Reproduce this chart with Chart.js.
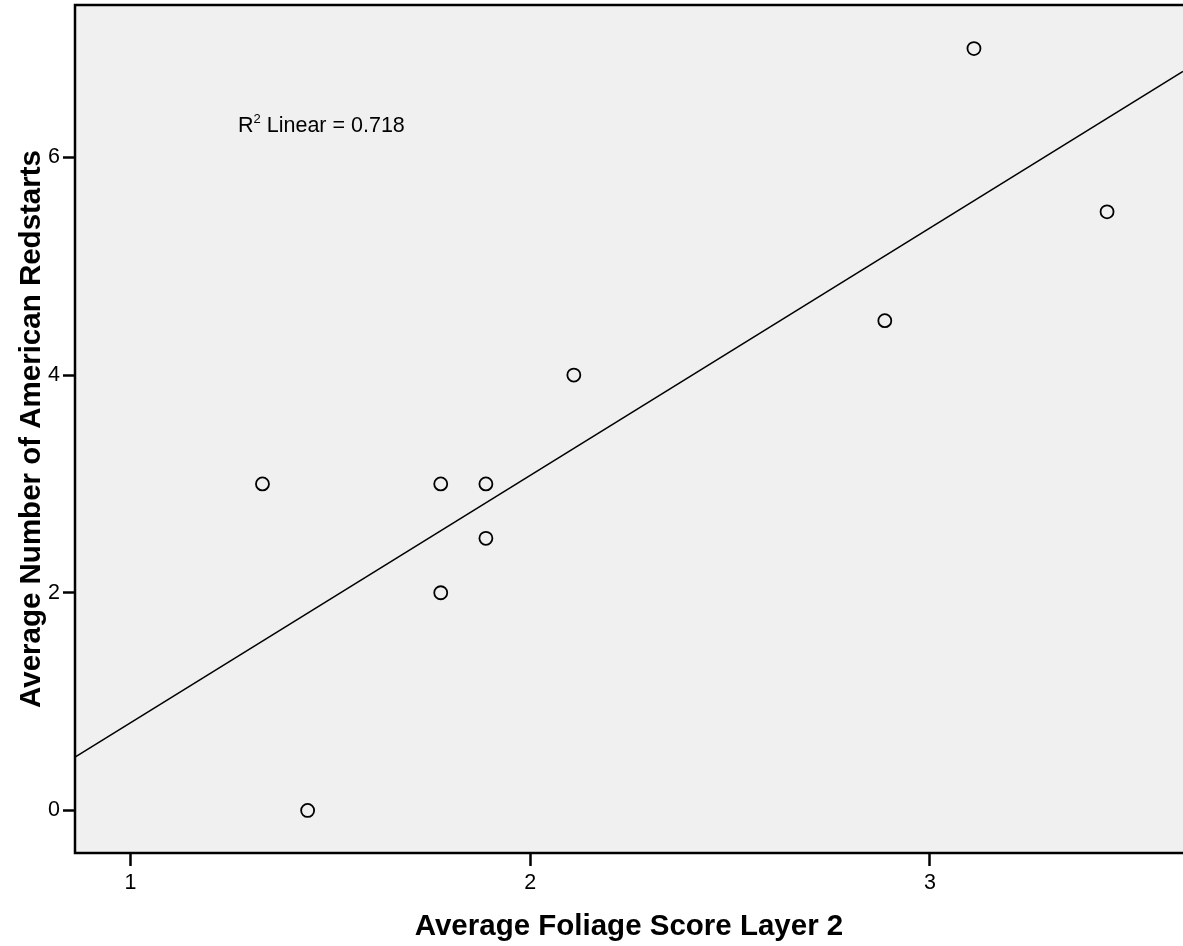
<!DOCTYPE html>
<html>
<head>
<meta charset="utf-8">
<script src="https://cdn.jsdelivr.net/npm/chart.js@4"></script>
<style>
  html, body { margin: 0; padding: 0; background: #fff; }
  #wrap { width: 1183px; height: 946px; }
</style>
</head>
<body>
<div id="wrap"><canvas id="grafica"></canvas></div>
<script>
// foliage score (x) and redstart count (y)
var foliage = [1.33, 1.443, 1.776, 1.776, 1.889, 1.889, 2.109, 2.887, 3.11, 3.443];
var redstarts = [3, 0, 3, 2, 3, 2.5, 4, 4.5, 7, 5.5];
// fit line end points as drawn
var lineX = [0.861, 3.633];
var lineY = [0.49, 6.79];
var xTicks = [1, 2, 3];
var yTicks = [0, 2, 4, 6];
var r2Text = 'Linear = 0.718';

var fuente = '"Liberation Sans", Arial, sans-serif';
var puntos = foliage.map(function (v, i) { return { x: v, y: redstarts[i] }; });
var recta = lineX.map(function (v, i) { return { x: v, y: lineY[i] }; });

var fondo = {
  id: 'fondo',
  beforeDraw: function (chart) {
    var c = chart.ctx, a = chart.chartArea;
    c.save();
    c.fillStyle = '#f0f0f0';
    c.fillRect(a.left, a.top, a.right - a.left, a.bottom - a.top);
    c.restore();
  },
  afterDraw: function (chart) {
    var c = chart.ctx, a = chart.chartArea;
    c.save();
    c.strokeStyle = '#000';
    c.lineWidth = 2.5;
    c.beginPath();
    c.moveTo(a.right + 2, a.top);
    c.lineTo(a.left, a.top);
    c.lineTo(a.left, a.bottom);
    c.lineTo(a.right + 2, a.bottom);
    c.stroke();
    // R squared label
    c.fillStyle = '#000';
    c.textBaseline = 'alphabetic';
    c.font = '21.5px ' + fuente;
    c.fillText('R', 238, 132);
    var w = c.measureText('R').width;
    c.font = '13px ' + fuente;
    c.fillText('2', 238 + w, 123);
    var w2 = c.measureText('2').width;
    c.font = '21.5px ' + fuente;
    c.fillText(' ' + r2Text, 238 + w + w2, 132);
    c.restore();
  }
};

new Chart(document.getElementById('grafica').getContext('2d'), {
  type: 'scatter',
  data: {
    datasets: [
      {
        label: 'puntos',
        data: puntos,
        pointStyle: 'circle',
        pointRadius: 6.5,
        pointBorderWidth: 1.8,
        borderColor: '#000',
        backgroundColor: 'rgba(0,0,0,0)'
      },
      {
        label: 'recta',
        type: 'line',
        data: recta,
        borderColor: '#000',
        borderWidth: 1.6,
        pointRadius: 0,
        fill: false
      }
    ]
  },
  options: {
    responsive: true,
    maintainAspectRatio: false,
    animation: false,
    events: [],
    layout: { autoPadding: false, padding: { top: 5, right: 0, left: 0, bottom: 0 } },
    plugins: { legend: { display: false }, tooltip: { enabled: false } },
    scales: {
      x: {
        type: 'linear',
        min: 0.861,
        max: 3.633,
        afterFit: function (s) { s.height = 93; s.paddingLeft = 0; s.paddingRight = 0; },
        afterBuildTicks: function (s) { s.ticks = xTicks.map(function (v) { return { value: v }; }); },
        border: { display: false },
        grid: { drawOnChartArea: false, drawTicks: true, tickLength: 13, tickColor: '#000', tickWidth: 2.5 },
        ticks: { color: '#000', padding: 4, font: { family: fuente, size: 21.5 } },
        title: {
          display: true,
          text: 'Average Foliage Score Layer 2',
          color: '#000',
          padding: { top: 0, bottom: 1 },
          font: { family: fuente, size: 29.5, weight: 'bold' }
        }
      },
      y: {
        type: 'linear',
        min: -0.391,
        max: 7.40,
        afterFit: function (s) { s.width = 75; s.paddingTop = 0; s.paddingBottom = 0; },
        afterBuildTicks: function (s) { s.ticks = yTicks.map(function (v) { return { value: v }; }); },
        border: { display: false },
        grid: { drawOnChartArea: false, drawTicks: true, tickLength: 12, tickColor: '#000', tickWidth: 2.5 },
        ticks: { color: '#000', padding: 3, font: { family: fuente, size: 21.5 } },
        title: {
          display: true,
          text: 'Average Number of American Redstarts',
          color: '#000',
          padding: { top: 14, bottom: 14 },
          font: { family: fuente, size: 29.5, weight: 'bold' }
        }
      }
    }
  },
  plugins: [fondo]
});
</script>
</body>
</html>
